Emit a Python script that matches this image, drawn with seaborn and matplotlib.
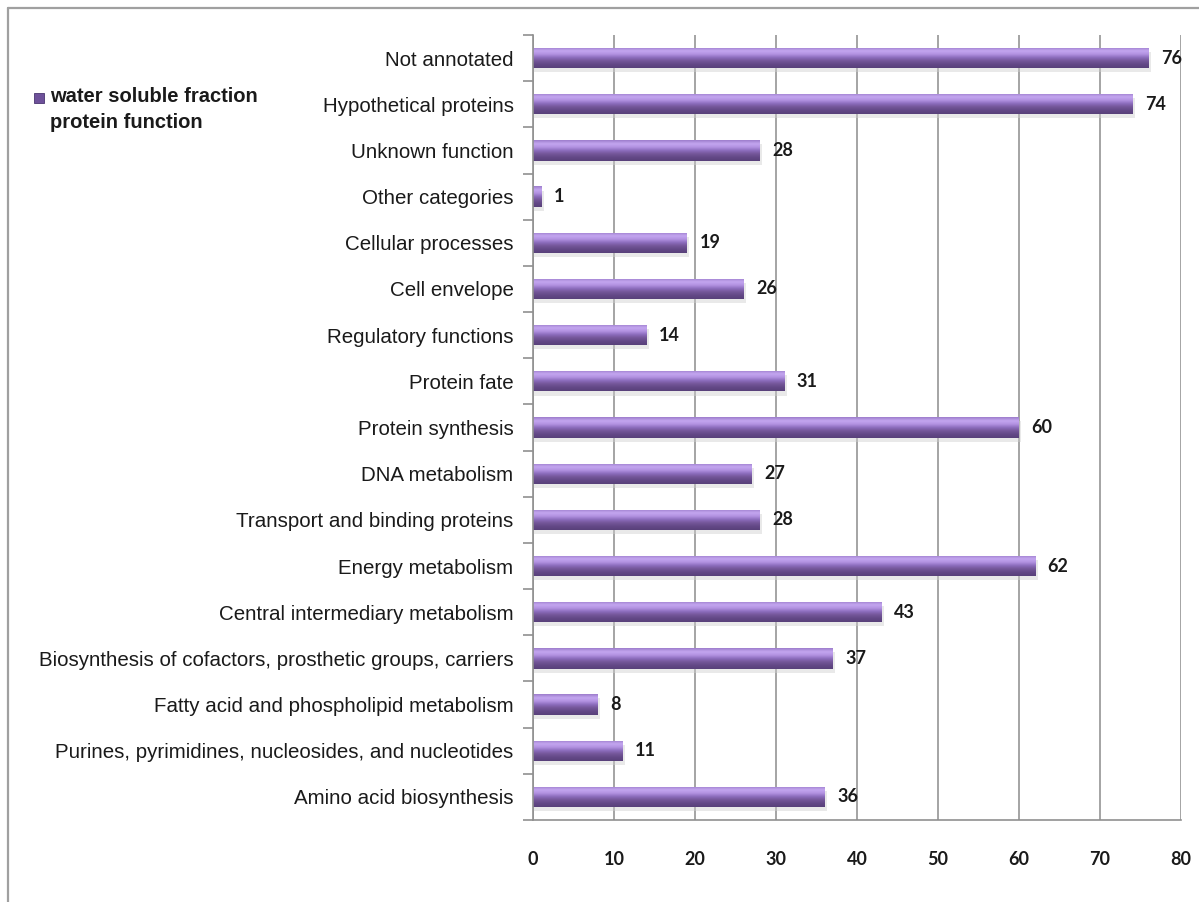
import numpy as np
import pandas as pd
import matplotlib
matplotlib.use("Agg")
import matplotlib.pyplot as plt
from matplotlib.lines import Line2D
from matplotlib.colors import LinearSegmentedColormap
import seaborn as sns

categories = [
    "Not annotated",
    "Hypothetical proteins",
    "Unknown function",
    "Other categories",
    "Cellular processes",
    "Cell envelope",
    "Regulatory functions",
    "Protein fate",
    "Protein synthesis",
    "DNA metabolism",
    "Transport and binding proteins",
    "Energy metabolism",
    "Central intermediary metabolism",
    "Biosynthesis of cofactors, prosthetic groups, carriers",
    "Fatty acid and phospholipid metabolism",
    "Purines, pyrimidines, nucleosides, and nucleotides",
    "Amino acid biosynthesis",
]
counts = [76, 74, 28, 1, 19, 26, 14, 31, 60, 27, 28, 62, 43, 37, 8, 11, 36]
x_ticks = [0, 10, 20, 30, 40, 50, 60, 70, 80]
series_name = "water soluble fraction\nprotein function"

df = pd.DataFrame({"category": categories, "count": counts})

sns.set_theme(style="white")
label_font = ["Liberation Sans", "DejaVu Sans"]
bold_font = ["Lato", "DejaVu Sans"]
plt.rcParams["font.family"] = label_font

fig = plt.figure(figsize=(11.99, 9.02), dpi=100)
ax = fig.add_axes([533 / 1199, 1 - 820 / 902, (1181 - 533) / 1199, (820 - 35) / 902])

sns.barplot(data=df, x="count", y="category", orient="h", ax=ax,
            color="#7A5BA8", width=0.44, saturation=1, edgecolor="none")

# shaded tube look for each bar: light upper edge, dark lower half
grad = LinearSegmentedColormap.from_list(
    "tube", ["#9C7CCB", "#C4A6F0", "#B393E2", "#8C6CBC", "#735598", "#634886", "#58407A"])
img = np.linspace(0, 1, 64).reshape(-1, 1)
for p in ax.patches:
    x0, y0 = p.get_x(), p.get_y()
    w, h = p.get_width(), p.get_height()
    # soft shadow under the bar
    ax.add_patch(plt.Rectangle((x0, y0 + h * 0.2), w + 0.3, h * 1.0,
                               color="#D0D0D0", alpha=0.45, zorder=1.5, lw=0))
    im = ax.imshow(img, cmap=grad, aspect="auto",
                   extent=(x0, x0 + w, y0 + h, y0), origin="upper",
                   zorder=2.5, interpolation="bicubic")
    im.set_clip_path(p)
    p.set_zorder(2)

ax.set_xlim(0, 80)
ax.set_ylim(len(categories) - 0.5, -0.5)
ax.set_xticks(x_ticks)
ax.set_xticklabels([str(t) for t in x_ticks], fontfamily=bold_font,
                   fontweight="bold", fontsize=13, color="#1a1a1a")
ax.tick_params(axis="x", direction="out", length=7, width=1.2, color="#909090", pad=15)

ax.set_yticks(range(len(categories)))
ax.set_yticklabels(categories, fontsize=14.8, color="#1a1a1a")
ax.set_yticks(np.arange(-0.5, len(categories), 1), minor=True)
ax.tick_params(axis="y", which="major", length=0, pad=14)
ax.tick_params(axis="y", which="minor", direction="out", length=7, width=1.2, color="#909090", left=True)
ax.set_xlabel("")
ax.set_ylabel("")

ax.grid(axis="x", color="#8C8C8C", linewidth=1.1)
ax.grid(axis="y", visible=False)
ax.set_axisbelow(True)
for side in ["top", "right"]:
    ax.spines[side].set_visible(False)
for side in ["left", "bottom"]:
    ax.spines[side].set_color("#909090")
    ax.spines[side].set_linewidth(1.2)

for i, v in enumerate(counts):
    ax.annotate(str(v), xy=(v, i), xytext=(9, 0), textcoords="offset points",
                ha="left", va="center", fontsize=13, fontweight="bold",
                fontfamily=bold_font, color="#1a1a1a")

# legend entry
fig.patches.append(plt.Rectangle((34 / 1199, 1 - 103 / 902), 10 / 1199, 10 / 902,
                                 transform=fig.transFigure, facecolor="#6E519A",
                                 edgecolor="#4A3570", lw=0.6))
fig.text(50 / 1199, 1 - 87 / 902, series_name, fontsize=14.5, fontweight="bold",
         color="#1a1a1a", va="top", ha="left", linespacing=1.45)

# outer frame
fig.add_artist(Line2D([8 / 1199, 8 / 1199], [0, 1 - 8 / 902], color="#A0A0A0", lw=1.6,
                      transform=fig.transFigure))
fig.add_artist(Line2D([8 / 1199, 1], [1 - 8 / 902, 1 - 8 / 902], color="#A0A0A0", lw=1.6,
                      transform=fig.transFigure))

fig.savefig("out.png", dpi=100)
